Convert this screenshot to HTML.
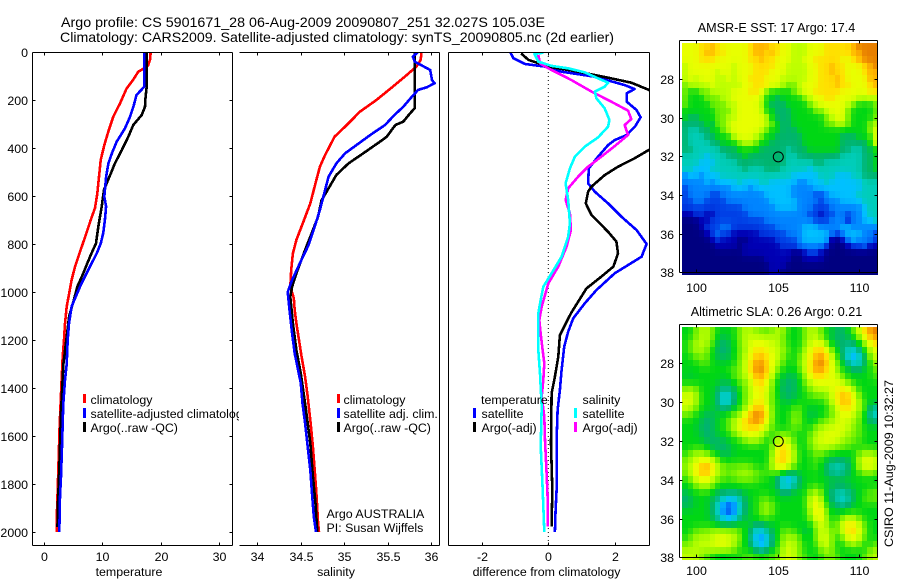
<!DOCTYPE html>
<html lang="en">
<head>
<meta charset="utf-8">
<title>Argo profile 5901671_28</title>
<style>
html,body{margin:0;padding:0;background:#fff;width:900px;height:580px;overflow:hidden}
svg{display:block}
text{font-family:"Liberation Sans",sans-serif;font-size:12.4px;fill:#000}
.title{font-size:14px}
.maptitle{font-size:12.6px}
</style>
</head>
<body>
<svg id="chart" xmlns="http://www.w3.org/2000/svg" width="900" height="580" viewBox="0 0 900 580">
  <defs>
    <clipPath id="clip-temp"><rect x="33" y="52" width="199" height="493"/></clipPath>
    <clipPath id="clip-sal"><rect x="239" y="52" width="200" height="493"/></clipPath>
    <clipPath id="clip-diff"><rect x="449" y="52" width="200" height="493"/></clipPath>
    <clipPath id="clip-legend"><rect x="33" y="380" width="206" height="60"/></clipPath>
  </defs>
  <rect x="0" y="0" width="900" height="580" fill="#fff"/>
  <g id="maps"></g>
  <g id="plots"></g>
  <g id="axes"></g>

  <text class="title" x="61" y="27" textLength="484" lengthAdjust="spacingAndGlyphs">Argo profile: CS 5901671_28 06-Aug-2009 20090807_251 32.027S 105.03E</text>
  <text class="title" x="60" y="42" textLength="554" lengthAdjust="spacingAndGlyphs">Climatology: CARS2009. Satellite-adjusted climatology: synTS_20090805.nc (2d earlier)</text>

  <text x="129" y="576" text-anchor="middle">temperature</text>
  <text x="336" y="576" text-anchor="middle">salinity</text>
  <text x="546.5" y="576" text-anchor="middle">difference from climatology</text>

  <g clip-path="url(#clip-legend)">
    <rect x="83" y="394" width="3" height="9" fill="#f00"/>
    <text x="90.5" y="404">climatology</text>
    <rect x="83" y="408" width="3" height="10" fill="#00f"/>
    <text x="90.5" y="418">satellite-adjusted climatology</text>
    <rect x="83" y="422" width="3" height="10" fill="#000"/>
    <text x="90.5" y="432">Argo(..raw -QC)</text>
  </g>

  <g>
    <rect x="337" y="394" width="3" height="9" fill="#f00"/>
    <text x="343.5" y="404">climatology</text>
    <rect x="337" y="408" width="3" height="10" fill="#00f"/>
    <text x="343.5" y="418">satellite adj. clim.</text>
    <rect x="337" y="422" width="3" height="10" fill="#000"/>
    <text x="343.5" y="432">Argo(..raw -QC)</text>
  </g>
  <text x="326.5" y="518">Argo AUSTRALIA</text>
  <text x="326.5" y="532">PI: Susan Wijffels</text>

  <g>
    <text x="481" y="404">temperature</text>
    <rect x="473" y="408" width="3" height="10" fill="#00f"/>
    <text x="481.5" y="418">satellite</text>
    <rect x="473" y="422" width="3" height="10" fill="#000"/>
    <text x="481.5" y="432">Argo(-adj)</text>
    <text x="582.5" y="404">salinity</text>
    <rect x="574" y="408" width="3" height="10" fill="#0ff"/>
    <text x="582.5" y="418">satellite</text>
    <rect x="574" y="422" width="3" height="10" fill="#f0f"/>
    <text x="582.5" y="432">Argo(-adj)</text>
  </g>

  <text class="maptitle" x="776.5" y="32" text-anchor="middle">AMSR-E SST: 17 Argo: 17.4</text>
  <text class="maptitle" x="776.5" y="316" text-anchor="middle">Altimetric SLA: 0.26 Argo: 0.21</text>
  <text transform="translate(893,547) rotate(-90)" textLength="167" lengthAdjust="spacingAndGlyphs">CSIRO 11-Aug-2009 10:32:27</text>
</svg>
<script>
// ---------- Tick labels ----------
const depthTicks = [0,200,400,600,800,1000,1200,1400,1600,1800,2000];
const tempTicks = [0,10,20,30];
const salTicks = [34,34.5,35,35.5,36];
const diffTicks = [-2,0,2];
const lonTicks = [100,105,110];
const latTicks = [28,30,32,34,36,38];

// ---------- Temperature panel ----------
const climTempDepth = [0,28,55,70,82,114,152,214,269,332,388,450,520,590,650,700,760,832,895,950,1005,1061,1131,1200,1270,1367,1464,1561,1686,1825,1950,2000];
const climTempValue = [18.3,18.26,17.9,17.07,16.2,15.36,14.2,13.08,11.94,11.08,10.4,9.77,9.49,9.2,8.8,8.06,7.26,6.24,5.38,4.8,4.4,3.96,3.68,3.5,3.28,3.1,2.93,2.76,2.6,2.42,2.25,2.25];
const satTempDepth = [0,144,156,179,228,269,318,374,422,464,520,603,644,700,755,797,839,908,964,1026,1061,1131,1200,1300,1367,1464,1644,1769,1853,2000];
const satTempValue = [17.24,17.24,16.8,15.9,15.36,14.8,13.93,12.5,11.7,11.1,10.7,10.4,10.7,10.5,10.2,9.8,9.1,7.66,6.5,5.4,4.8,4.36,4.13,3.96,3.68,3.39,3.16,3.0,2.82,2.7];
const argoTempDepth = [0,144,200,228,262,304,353,408,464,512,574,644,728,797,853,922,978,1033,1100,1300,1500,1700,1900,1980];
const argoTempValue = [17.6,17.64,17.4,17.35,16.8,15.35,14.5,13.4,12.2,11.4,10.35,9.95,9.37,8.97,7.95,6.8,5.77,5.2,4.4,3.4,3.0,2.75,2.45,2.4];

// ---------- Salinity panel ----------
const climSalDepth = [0,33,61,96,144,200,249,304,353,429,478,547,631,707,783,839,908,978,1026,1075,1131,1200,1270,1353,1436,1533,1644,1742,1839,1964,2000];
const climSalValue = [35.89,35.88,35.83,35.72,35.56,35.37,35.18,35.03,34.89,34.78,34.72,34.67,34.61,34.53,34.45,34.41,34.39,34.38,34.42,34.43,34.45,34.48,34.51,34.55,34.58,34.61,34.64,34.66,34.68,34.70,34.71];
const satSalDepth = [0,19,40,75,117,130,147,158,186,228,262,304,346,388,422,464,519,589,658,728,804,880,950,1000,1075,1172,1256,1325,1380,1464,1547,1644,1742,1839,1936,2000];
const satSalValue = [35.85,35.79,35.81,35.99,36.01,36.04,35.95,35.85,35.78,35.68,35.58,35.47,35.3,35.14,35.01,34.91,34.82,34.77,34.72,34.66,34.59,34.49,34.40,34.35,34.37,34.4,34.43,34.47,34.50,34.52,34.55,34.58,34.61,34.63,34.65,34.675];
const argoSalDepth = [0,61,235,255,290,304,318,353,374,422,464,512,568,617,686,742,825,922,978,1020,1131,1242,1339,1492,1630,1769,1881,2000];
const argoSalValue = [35.81,35.81,35.81,35.76,35.68,35.59,35.56,35.49,35.41,35.22,35.05,34.91,34.82,34.74,34.70,34.64,34.55,34.45,34.40,34.38,34.41,34.45,34.5,34.56,34.61,34.64,34.67,34.69];

// ---------- Difference panel ----------
const diffTempSatDepth = [0,26,50,61,82,103,138,154,172,207,242,272,311,346,367,388,436,485,547,582,631,686,742,800,853,922,992,1047,1110,1165,1228,1325,1408,1492,1617,1825,1908,2000];
const diffTempSatValue = [-1.15,-1.05,-0.7,-0.1,0.4,1.4,2.3,2.6,2.36,2.36,2.66,2.78,2.61,2.36,2.0,1.8,1.5,1.22,1.2,1.4,1.8,2.2,2.66,2.96,2.81,2.0,1.45,1.1,0.75,0.6,0.48,0.4,0.35,0.28,0.25,0.25,0.22,0.2];
const diffTempArgoDepth = [6,33,61,82,110,128,158,250,350,408,443,478,513,561,582,631,679,749,790,839,894,936,985,1040,1089,1180,1269,1353,1422,1631,1825,1978];
const diffTempArgoValue = [-0.82,-0.6,0,0.9,1.9,2.5,3.03,4.5,4.5,3.03,2.6,2.1,1.7,1.3,1.2,1.13,1.3,1.8,2.05,2.1,1.96,1.6,1.15,0.9,0.68,0.35,0.3,0.2,0.1,0.08,0.12,0.1];
const diffSalArgoDepth = [12,47,68,117,165,200,244,279,304,346,392,436,478,519,568,617,672,742,811,894,964,1061,1117,1186,1297,1367,1436,1519,1617,1756,1853,1978];
const diffSalArgoValue = [-0.3,-0.25,0,0.7,1.3,1.8,2.4,2.5,2.3,2.4,2.0,1.6,1.2,0.9,0.6,0.52,0.65,0.68,0.55,0.3,0,-0.2,-0.27,-0.22,-0.12,-0.15,-0.2,-0.12,-0.1,-0.05,-0.02,-0.02];
const diffSalSatDepth = [3,8,40,58,68,85,110,128,144,165,193,235,283,311,356,394,436,485,547,617,714,769,853,922,978,1033,1089,1242,1339,1478,1642,1825,2000];
const diffSalSatValue = [-0.15,-0.42,-0.3,0.1,0.6,1.1,1.5,1.8,1.7,1.4,1.45,1.7,1.84,1.8,1.5,1.1,0.8,0.65,0.52,0.6,0.65,0.6,0.4,0.1,-0.15,-0.23,-0.3,-0.3,-0.25,-0.2,-0.23,-0.17,-0.12];

// ---------- Map panels (colour-scale levels, 0 coldest/lowest to 13 warmest/highest) ----------
const sstGrid = [
[10,10,10,11,11,12,11,10,10,10,10,10,11,12,12,12,11,11,10,10,9,9,9,10,10,10,11,11,11,11,11,12,13,13,13,13],
[10,10,10,11,12,12,11,11,10,10,10,10,11,12,12,11,12,11,10,10,9,9,9,10,10,10,11,11,11,11,11,12,12,13,13,13],
[10,10,10,11,11,11,10,10,10,10,10,10,11,11,12,11,11,10,10,10,9,9,10,10,11,11,11,11,11,10,10,11,12,13,13,13],
[9,10,10,10,10,10,10,10,10,9,10,10,10,11,11,11,11,10,10,9,9,9,9,10,10,11,11,12,11,11,10,10,10,11,12,13],
[9,10,10,10,10,10,9,10,10,9,10,10,10,11,11,11,10,10,10,9,9,9,9,10,10,11,11,12,11,11,10,10,10,11,12,12],
[9,10,9,10,10,10,9,9,10,9,10,10,11,11,11,10,10,10,9,9,9,9,9,10,10,11,11,11,12,11,10,10,10,10,12,12],
[8,9,9,9,9,10,9,9,9,9,9,10,10,11,11,11,10,10,9,8,8,9,10,10,10,11,11,11,12,11,11,10,10,10,11,12],
[8,7,7,8,8,9,9,9,9,10,10,10,11,11,10,8,7,7,7,7,8,9,10,10,11,11,11,11,11,10,10,10,10,10,11,11],
[8,7,7,7,8,8,8,9,9,10,10,10,10,10,9,7,7,6,7,7,7,7,8,9,10,10,11,11,10,10,10,10,9,9,9,9],
[8,7,7,7,7,8,8,8,9,9,10,10,10,10,9,7,6,6,6,7,7,7,7,8,9,10,10,10,10,10,9,8,7,7,7,8],
[7,7,7,7,7,7,8,8,8,9,10,10,10,10,9,7,7,6,6,6,7,7,7,7,8,8,9,10,10,10,8,7,7,7,7,8],
[7,6,6,7,7,7,8,8,9,9,10,10,10,10,10,9,7,6,6,6,7,7,7,7,7,7,8,9,10,10,8,7,7,7,7,8],
[6,6,6,6,7,6,8,8,9,10,10,10,10,10,10,9,8,7,6,6,7,7,7,7,7,7,8,8,9,9,8,7,7,7,8,9],
[6,5,5,6,6,7,7,8,9,10,10,10,10,10,9,8,7,7,6,6,6,7,7,7,7,7,7,7,7,7,7,7,7,7,8,10],
[6,5,5,5,6,6,7,7,7,9,10,10,10,9,8,7,7,6,6,6,6,6,7,7,7,7,7,7,7,6,6,6,7,7,7,10],
[6,5,5,5,5,6,6,7,7,7,8,9,9,8,7,7,6,6,6,6,6,6,7,7,7,7,7,7,7,6,6,6,6,6,7,10],
[6,6,5,5,5,5,5,6,6,6,7,7,7,7,6,6,6,6,6,5,6,6,6,7,7,7,7,7,7,6,6,5,5,6,6,7],
[5,5,5,5,4,5,5,5,6,6,6,7,6,6,6,6,6,6,6,5,5,6,6,6,6,6,6,6,6,5,5,5,5,6,6,7],
[5,5,5,4,4,4,5,5,5,5,6,6,6,6,6,6,6,6,6,5,5,5,5,5,6,6,5,5,5,5,5,5,5,6,6,7],
[5,5,4,4,4,5,5,5,5,5,5,6,5,5,5,6,6,6,5,5,5,5,5,4,5,5,5,5,5,5,5,5,5,6,6,7],
[3,4,4,3,4,4,4,5,5,5,5,5,5,5,5,5,5,5,5,5,4,4,4,4,4,5,5,5,4,4,4,5,5,6,6,6],
[3,3,3,3,4,3,4,4,4,4,5,4,4,4,5,5,4,4,4,4,4,3,3,4,4,4,5,4,4,4,4,4,4,5,5,5],
[2,3,3,3,3,3,3,3,3,4,4,4,3,4,4,4,4,4,4,4,3,3,3,3,4,4,4,4,4,4,4,4,4,5,5,5],
[2,3,3,3,3,2,2,3,3,3,3,3,3,3,3,4,4,4,4,4,3,3,3,3,2,2,3,4,4,4,4,4,5,5,5,5],
[2,2,3,3,2,2,2,2,3,3,3,3,3,3,3,3,4,4,4,4,4,3,3,3,3,2,3,3,3,4,4,4,4,5,5,5],
[2,2,2,2,2,2,2,2,2,2,2,3,3,3,3,3,3,4,4,4,4,3,3,3,2,2,2,3,3,3,3,3,3,4,5,5],
[1,1,2,2,1,1,2,2,2,2,2,2,3,3,3,3,3,3,3,3,3,3,3,2,2,1,2,2,3,3,2,3,3,4,5,5],
[0,0,0,1,1,2,2,2,2,2,2,2,2,2,2,3,3,3,3,3,3,3,3,3,2,2,2,3,3,3,1,3,3,4,4,5],
[0,0,0,1,2,2,2,3,3,2,2,2,2,2,2,2,2,3,3,3,3,3,4,4,4,3,3,3,3,4,4,3,3,3,3,3],
[0,0,0,0,1,2,3,2,2,1,1,1,1,1,2,2,2,2,2,3,3,3,4,4,4,4,4,3,2,3,4,4,4,3,3,2],
[0,0,0,0,0,1,2,1,1,1,0,0,1,1,1,1,1,2,2,2,2,3,4,4,4,4,4,0,0,1,3,4,3,3,3,2],
[0,0,0,0,0,0,1,1,1,1,0,1,1,1,1,1,1,1,2,2,2,3,3,3,3,3,2,0,0,0,1,2,2,3,1,1],
[0,0,0,0,0,0,0,0,0,0,0,1,1,1,1,1,1,1,1,1,0,0,1,2,2,1,0,0,0,0,0,0,0,0,0,0],
[0,0,0,0,0,0,0,0,0,0,0,0,0,0,0,1,1,1,1,1,0,0,1,1,1,1,0,0,0,0,0,0,0,0,0,0],
[0,0,0,0,0,0,0,0,0,0,0,0,0,0,0,0,1,1,1,0,0,0,0,0,0,0,0,0,0,0,0,0,0,0,0,0],
[0,0,0,0,0,0,0,0,0,0,0,0,0,0,0,0,1,1,0,0,0,0,0,0,0,0,0,0,0,0,0,0,0,0,0,0]
];
const slaGrid = [
[7,7,8,9,9,8,7,7,7,7,8,9,9,8,8,7,8,9,9,7,7,7,8,9,9,8,7,7,6,6,7,8,10,11,13,13],
[7,7,8,9,9,8,7,6,7,7,8,9,9,9,9,9,9,9,8,7,7,7,8,9,9,8,7,6,6,6,6,7,8,10,12,13],
[7,8,9,9,9,8,6,6,6,7,8,9,10,10,10,10,9,9,8,7,7,7,8,9,10,10,8,7,6,6,6,6,7,8,10,11],
[7,8,9,9,8,7,6,6,6,7,8,8,10,11,11,10,10,9,9,8,7,7,9,10,11,12,10,8,7,6,5,4,6,7,9,10],
[7,7,8,8,8,7,6,6,6,7,8,9,10,11,12,11,10,9,8,7,7,8,9,10,12,13,11,9,7,6,4,3,4,6,8,10],
[7,7,7,8,8,7,7,7,7,7,8,9,11,13,13,11,10,9,8,7,7,8,9,10,13,13,12,10,8,7,6,4,5,6,7,9],
[7,7,7,7,7,7,7,7,7,8,8,9,11,13,13,12,10,8,7,7,7,8,9,11,13,13,11,10,8,7,7,6,6,7,7,8],
[7,6,7,7,7,7,7,7,7,8,8,9,10,12,13,11,9,7,7,6,6,7,8,10,11,11,10,10,9,8,7,7,7,7,7,8],
[7,7,7,7,7,7,7,6,6,7,8,8,9,11,11,10,8,7,6,6,6,7,8,9,10,10,10,10,10,9,8,7,7,7,7,7],
[8,9,8,7,7,7,6,6,6,6,7,8,9,10,11,10,8,7,6,6,6,7,7,8,9,9,9,10,10,11,10,9,7,7,7,7],
[9,10,9,7,7,7,6,4,4,6,7,8,9,10,11,9,8,7,6,6,6,7,7,8,8,8,8,9,11,12,12,10,8,7,7,7],
[10,10,9,7,7,7,6,4,4,6,7,8,9,10,11,9,8,7,7,6,7,7,7,7,7,7,8,9,11,12,12,10,9,7,7,7],
[9,9,8,7,7,7,6,6,6,7,7,8,10,12,12,10,8,7,7,7,8,8,7,7,7,7,7,8,9,11,11,10,9,8,6,5],
[8,8,7,7,6,6,7,7,7,8,8,10,12,13,13,11,8,7,7,7,8,8,7,6,6,7,7,8,9,10,10,9,8,7,5,4],
[7,7,7,6,6,6,7,7,8,9,10,11,13,13,13,10,8,7,7,7,9,8,7,7,7,8,8,9,9,10,9,9,8,7,6,6],
[7,7,7,6,6,6,7,7,8,9,10,11,11,11,10,9,8,7,7,7,8,8,7,7,8,9,9,9,10,10,9,8,8,7,7,7],
[7,7,7,6,6,6,7,7,7,8,9,10,10,10,9,8,7,8,8,8,7,7,7,8,9,9,10,10,10,9,9,8,8,7,7,7],
[7,7,7,7,6,6,6,6,7,7,7,8,9,9,8,7,7,9,10,9,8,7,7,8,9,10,10,10,9,9,8,8,8,7,7,7],
[7,7,7,7,7,6,6,6,6,7,7,7,7,7,7,7,8,10,12,10,8,7,7,8,9,9,9,9,8,8,8,7,7,7,7,7],
[7,8,9,9,8,7,7,6,6,7,7,7,7,7,7,7,8,11,11,11,9,7,7,7,8,8,7,7,7,7,7,7,8,9,9,8],
[8,9,9,10,10,9,8,7,7,7,7,7,7,7,7,7,8,11,12,10,9,7,7,7,8,7,7,6,6,6,6,7,9,10,10,9],
[8,9,10,12,13,11,9,8,8,8,8,8,8,7,7,7,9,12,11,10,8,7,7,7,8,7,6,5,5,5,6,7,9,10,11,9],
[8,9,11,12,12,10,9,8,8,8,9,9,9,8,8,8,7,7,6,6,6,7,7,7,7,7,6,5,5,5,6,7,7,8,8,7],
[7,8,9,10,10,9,8,8,7,8,8,8,8,8,7,7,7,6,4,3,4,6,7,7,7,7,7,7,7,7,7,7,7,7,7,7],
[7,7,8,9,9,8,7,7,7,7,7,7,7,7,7,7,7,6,4,4,6,6,7,7,8,7,7,6,6,6,6,7,7,7,7,7],
[6,7,7,7,7,7,6,6,6,6,6,7,7,7,7,7,7,7,6,6,7,7,7,8,9,8,6,6,5,5,6,6,7,7,8,8],
[6,6,7,7,7,6,6,5,4,4,5,6,7,7,8,8,7,7,7,7,7,7,7,9,11,9,7,6,5,4,5,6,7,8,8,8],
[6,6,7,7,7,6,5,3,2,3,5,6,7,7,8,9,8,7,7,7,7,7,7,9,11,9,7,6,6,5,6,7,7,7,7,7],
[7,7,7,7,7,6,5,3,1,3,5,6,7,7,8,9,8,7,7,7,7,7,7,8,11,11,8,7,7,7,7,7,7,7,7,7],
[7,7,7,7,7,6,6,4,4,4,6,6,7,7,8,8,7,7,7,7,7,7,7,8,10,11,8,7,7,8,9,9,8,7,7,7],
[7,7,7,7,7,7,6,6,6,6,7,7,7,6,6,6,7,7,7,7,7,7,7,7,8,10,9,7,8,10,11,11,9,8,7,7],
[7,7,8,8,8,9,9,9,9,9,8,7,6,4,4,6,6,7,8,8,7,7,6,6,8,9,9,8,8,9,11,12,10,8,7,7],
[7,8,9,9,9,9,10,10,9,9,8,7,6,4,3,4,6,7,8,9,9,8,7,7,8,10,10,8,7,8,10,11,9,8,7,7],
[8,8,9,9,9,9,10,10,10,9,8,7,6,4,3,4,6,7,9,9,9,8,7,7,7,9,10,8,7,7,8,9,8,7,7,8],
[9,9,9,9,9,10,9,9,9,8,7,7,7,6,5,6,7,7,9,10,9,8,7,7,7,8,9,8,7,7,7,7,7,7,8,9],
[9,9,9,8,7,6,6,6,6,7,7,8,8,8,8,8,8,8,9,10,9,8,8,7,7,7,8,8,8,7,7,7,7,8,9,9]
];
const gridLonStart = 99.15;
const gridLatStart = 26.15;
const argoLon = 105.03;
const argoLat = 32.027;
const levelColours = ["#000080","#0000b4","#0040e6","#0084ff","#00c0ff","#00cdb9","#00b46e","#00d714","#70f000","#bcff00","#e8ff00","#ffe000","#ffb400","#e88000"];

// ---------- Axis functions ----------
const NS = "http://www.w3.org/2000/svg";
const depthY = d => 52 + d * 0.24;
const tempX = v => 43.5 + v * 5.85;
const salX = v => 257.3 + (v - 34) * 86.9;
const diffX = v => 548.3 + v * 33.2;
const lonX = v => 696.3 + (v - 100) * 16.3;
const sstY = v => 79 + (v - 28) * 19.33;
const slaY = v => 363.3 + (v - 28) * 19.4;

const plots = document.getElementById("plots");
const axes = document.getElementById("axes");
const maps = document.getElementById("maps");

function make(tag, parent, attrs) {
  const el = document.createElementNS(NS, tag);
  for (const k in attrs) el.setAttribute(k, attrs[k]);
  parent.appendChild(el);
  return el;
}

function drawSeries(name, depths, values, xFn, colour, clip) {
  const pts = depths.map((d, i) => xFn(values[i]).toFixed(1) + "," + depthY(d).toFixed(1)).join(" ");
  const line = make("polyline", plots, {points: pts, fill: "none", stroke: colour, "stroke-width": 2.6, "stroke-linejoin": "round", "shape-rendering": "crispEdges", "clip-path": "url(#" + clip + ")"});
  
  
}

function hLine(parent, x1, x2, y) {
  return make("line", parent, {x1: x1, x2: x2, y1: y, y2: y, stroke: "#000", "stroke-width": 1, "shape-rendering": "crispEdges"});
}
function vLine(parent, x, y1, y2) {
  return make("line", parent, {x1: x, x2: x, y1: y1, y2: y2, stroke: "#000", "stroke-width": 1, "shape-rendering": "crispEdges"});
}
function label(parent, txt, x, y, anchor) {
  const t = make("text", parent, {x: x, y: y, "text-anchor": anchor});
  t.textContent = txt;
  return t;
}

function drawProfileAxes(name, left, right, hasLeft, xTicks, xFn, showDepthLabels) {
  const g = make("g", axes, {});
  
  
  const top = 52.5, bottom = 545.5;
  hLine(g, left, right, top);
  hLine(g, left, right, bottom);
  vLine(g, right, top, bottom);
  if (hasLeft) vLine(g, left, top, bottom);
  xTicks.forEach(v => {
    const x = Math.round(xFn(v)) + 0.5;
    vLine(g, x, top, top + 3);
    vLine(g, x, bottom - 3, bottom);
    const t = label(g, String(v), x, 561, "middle");
    
    
  });
  if (showDepthLabels) {
    depthTicks.forEach(d => {
      const y = Math.round(depthY(d)) + 0.5;
      hLine(g, left, left + 3, y);
      hLine(g, right - 3, right, y);
      const t = label(g, String(d), 28, y + 4.5, "end");
      
      
    });
  }
}

// Colour for a fractional level, blending neighbouring palette entries.
function levelColour(level) {
  const lo = Math.max(0, Math.min(levelColours.length - 1, Math.floor(level)));
  const hi = Math.min(levelColours.length - 1, lo + 1);
  const f = level - lo;
  const ch = (hex, i) => parseInt(hex.substr(1 + i * 2, 2), 16);
  let out = "rgb(";
  for (let i = 0; i < 3; i++) {
    out += Math.round(ch(levelColours[lo], i) * (1 - f) + ch(levelColours[hi], i) * f) + (i < 2 ? "," : ")");
  }
  return out;
}

// The source fields are smooth; blend each cell with its neighbours for display.
function blendedLevel(grid, r, c, centreWeight) {
  let sum = 0, weight = 0;
  for (let dr = -1; dr <= 1; dr++) {
    for (let dc = -1; dc <= 1; dc++) {
      const row = grid[r + dr];
      if (!row || row[c + dc] === undefined) continue;
      const w = dr === 0 && dc === 0 ? centreWeight : (dr === 0 || dc === 0 ? 1 : 0.5);
      sum += row[c + dc] * w;
      weight += w;
    }
  }
  return sum / weight;
}

function drawMap(name, grid, yFn, top, bottom, labelY, centreWeight) {
  const g = make("g", maps, {});
  
  
  grid.forEach((row, r) => {
    const y0 = Math.round(yFn(gridLatStart + r / 3));
    const y1 = Math.round(yFn(gridLatStart + (r + 1) / 3));
    row.forEach((level, c) => {
      const x0 = Math.round(lonX(gridLonStart + c / 3));
      const x1 = Math.round(lonX(gridLonStart + (c + 1) / 3));
      const cell = make("rect", g, {x: x0, y: y0, width: x1 - x0, height: y1 - y0, fill: levelColour(blendedLevel(grid, r, c, centreWeight)), "shape-rendering": "crispEdges"});
      
      
    });
  });
  const left = 679.5, right = 877.5;
  hLine(g, left, right, top);
  hLine(g, left, right, bottom);
  vLine(g, left, top, bottom);
  vLine(g, right, top, bottom);
  lonTicks.forEach(v => {
    const x = Math.round(lonX(v)) + 0.5;
    vLine(g, x, top, top + 3);
    vLine(g, x, bottom - 3, bottom);
    const t = label(g, String(v), x, labelY, "middle");
    
    
  });
  latTicks.forEach(v => {
    const y = Math.round(yFn(v)) + 0.5;
    hLine(g, left, left + 3, y);
    hLine(g, right - 3, right, y);
    const t = label(g, String(v), 674, y + 4.5, "end");
    
    
  });
  const mark = make("circle", g, {cx: lonX(argoLon), cy: yFn(argoLat), r: 5, fill: "none", stroke: "#000", "stroke-width": 1});
  
  
}

// ---------- Draw ----------
drawMap("sst-map", sstGrid, sstY, 40.5, 272.5, 292, 6);
drawMap("sla-map", slaGrid, slaY, 324.5, 557.5, 575, 2);

drawSeries("temperature-climatology-line", climTempDepth, climTempValue, tempX, "#f00", "clip-temp");
drawSeries("temperature-argo-line", argoTempDepth, argoTempValue, tempX, "#000", "clip-temp");
drawSeries("temperature-satellite-line", satTempDepth, satTempValue, tempX, "#00f", "clip-temp");

drawSeries("salinity-climatology-line", climSalDepth, climSalValue, salX, "#f00", "clip-sal");
drawSeries("salinity-argo-line", argoSalDepth, argoSalValue, salX, "#000", "clip-sal");
drawSeries("salinity-satellite-line", satSalDepth, satSalValue, salX, "#00f", "clip-sal");

const zeroLine = make("line", plots, {x1: diffX(0), x2: diffX(0), y1: 52, y2: 545, stroke: "#000", "stroke-width": 1, "stroke-dasharray": "1 3"});



drawSeries("difference-temp-satellite-line", diffTempSatDepth, diffTempSatValue, diffX, "#00f", "clip-diff");
drawSeries("difference-temp-argo-line", diffTempArgoDepth, diffTempArgoValue, diffX, "#000", "clip-diff");
drawSeries("difference-sal-argo-line", diffSalArgoDepth, diffSalArgoValue, diffX, "#f0f", "clip-diff");
drawSeries("difference-sal-satellite-line", diffSalSatDepth, diffSalSatValue, diffX, "#0ff", "clip-diff");

drawProfileAxes("temperature-axes", 32.5, 232.5, true, tempTicks, tempX, true);
drawProfileAxes("salinity-axes", 239.5, 439.5, false, salTicks, salX, false);
drawProfileAxes("difference-axes", 448.5, 649.5, true, diffTicks, diffX, false);
</script>
</body>
</html>
